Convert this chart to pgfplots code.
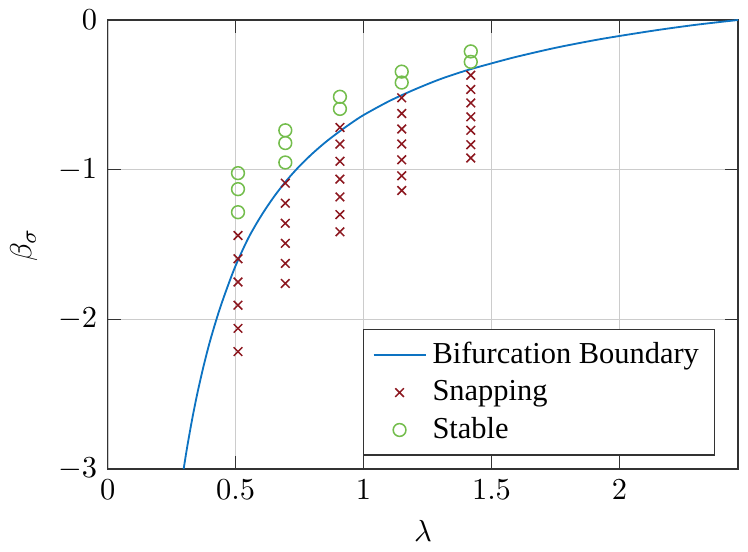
\documentclass[border=0pt]{standalone}
\usepackage{fontspec}
\setmainfont{Liberation Serif}
\usepackage{pgfplots}
\pgfplotsset{compat=1.18}
\definecolor{mblue}{rgb}{0.05,0.45,0.76}
\definecolor{mred}{rgb}{0.55,0.09,0.12}
\definecolor{mgreen}{rgb}{0.45,0.74,0.30}
\begin{document}
\begin{tikzpicture}
\begin{axis}[
  scale only axis,
  width=207pt, height=147.5pt,
  xmin=0, xmax=2.464, ymin=-3, ymax=0,
  xtick={0,0.5,1,1.5,2},
  ytick={-3,-2,-1,0},
  xticklabels={$0$,$0.5$,$1$,$1.5$,$2$},
  grid=major,
  major grid style={black!20, line width=0.5pt},
  axis line style={black!80},
  tick style={black!80},
  xlabel={$\lambda$}, ylabel={$\beta_\sigma$},
  legend style={at={(0.963,0.03)}, anchor=south east, draw=black!80, font=\normalsize, legend cell align=left},
]
\addplot[mblue, line width=0.6pt, smooth, tension=0.5] coordinates {
(0.2965,-3.0) (0.31,-2.856) (0.33,-2.665) (0.35,-2.495) (0.375,-2.308)
(0.40,-2.143) (0.43,-1.971) (0.46,-1.820) (0.50,-1.640) (0.55,-1.455)
(0.60,-1.307) (0.65,-1.180) (0.70,-1.070) (0.75,-0.975) (0.80,-0.892)
(0.85,-0.818) (0.90,-0.752) (0.95,-0.691) (1.00,-0.635) (1.10,-0.542)
(1.20,-0.464) (1.30,-0.395) (1.40,-0.338) (1.50,-0.290) (1.60,-0.245)
(1.75,-0.186) (1.90,-0.136) (2.00,-0.107) (2.15,-0.067) (2.30,-0.032) (2.464,0)
};
\addlegendentry{Bifurcation Boundary}
\addplot[only marks, mark=x, mark size=2pt, mred, line width=0.5pt] coordinates {
(0.509,-1.440) (0.509,-1.595) (0.509,-1.750) (0.509,-1.905) (0.509,-2.060) (0.509,-2.215)
(0.694,-1.090) (0.694,-1.224) (0.694,-1.358) (0.694,-1.492) (0.694,-1.626) (0.694,-1.760)
(0.9075,-0.718) (0.9075,-0.829) (0.9075,-0.944) (0.9075,-1.063) (0.9075,-1.182) (0.9075,-1.300) (0.9075,-1.415)
(1.149,-0.520) (1.149,-0.625) (1.149,-0.728) (1.149,-0.828) (1.149,-0.934) (1.149,-1.041) (1.149,-1.139)
(1.419,-0.369) (1.419,-0.464) (1.419,-0.554) (1.419,-0.647) (1.419,-0.737) (1.419,-0.833) (1.419,-0.922)
};
\addlegendentry{Snapping}
\addplot[only marks, mark=o, mark size=2.1pt, mgreen, line width=0.5pt] coordinates {
(0.509,-1.023) (0.509,-1.130) (0.509,-1.284)
(0.694,-0.737) (0.694,-0.822) (0.694,-0.952)
(0.9075,-0.513) (0.9075,-0.594)
(1.149,-0.345) (1.149,-0.418)
(1.419,-0.210) (1.419,-0.280)
};
\addlegendentry{Stable}
\end{axis}
\path (current bounding box.north east) ++(3pt,0) coordinate (padR);
\end{tikzpicture}
\end{document}
